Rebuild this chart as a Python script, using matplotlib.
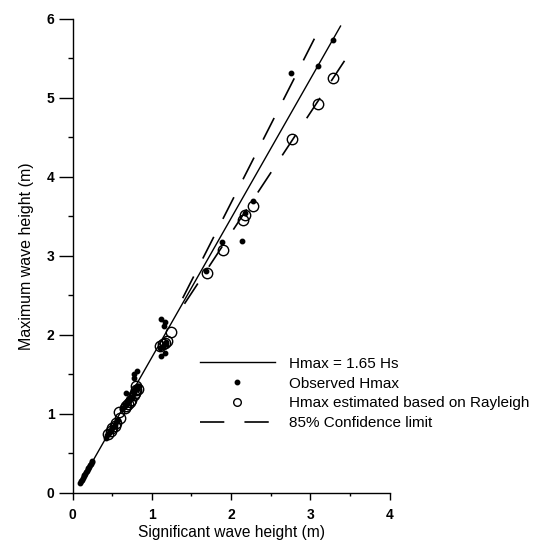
import numpy as np
import matplotlib
matplotlib.use('Agg')
import matplotlib.pyplot as plt

plt.rcParams['font.family'] = ['Liberation Sans', 'DejaVu Sans']
plt.rcParams['lines.scale_dashes'] = False

# Observed Hmax (filled dots)
obs_hs = [0.10, 0.11, 0.12, 0.13, 0.14, 0.15, 0.16, 0.17, 0.18, 0.19, 0.20,
          0.21, 0.22, 0.23, 0.24, 0.25,
          0.42, 0.44, 0.46, 0.47, 0.49, 0.50, 0.51, 0.53, 0.55, 0.57, 0.63,
          0.65, 0.67, 0.68, 0.69, 0.70, 0.71, 0.73, 0.75, 0.77, 0.79, 0.81,
          0.83, 0.77, 0.78, 0.81,
          1.10, 1.12, 1.14, 1.16, 1.17, 1.18, 1.12, 1.17, 1.15,
          1.68, 1.89, 2.14, 2.17, 2.27, 2.76, 3.10, 3.28]
obs_hmax = [0.13, 0.15, 0.17, 0.19, 0.21, 0.23, 0.24, 0.26, 0.28, 0.30, 0.32,
            0.33, 0.35, 0.37, 0.39, 0.41,
            0.70, 0.73, 0.76, 0.78, 0.80, 0.82, 0.84, 0.86, 0.90, 0.93, 1.06,
            1.09, 1.12, 1.27, 1.14, 1.15, 1.17, 1.20, 1.22, 1.26, 1.30, 1.33,
            1.35, 1.45, 1.51, 1.54,
            1.83, 1.73, 1.86, 1.88, 1.77, 1.91, 2.20, 2.16, 2.11,
            2.81, 3.18, 3.19, 3.54, 3.70, 5.31, 5.40, 5.73]

# Hmax estimated from Rayleigh (open circles)
est_hs = [0.45, 0.48, 0.50, 0.53, 0.55, 0.60, 0.59, 0.66,
          0.68, 0.70, 0.72, 0.74, 0.77, 0.79, 0.80, 0.82, 0.80,
          1.10, 1.14, 1.17, 1.19, 1.24, 1.69, 1.90, 2.15, 2.17, 2.28,
          2.77, 3.10, 3.29]
est_hmax = [0.75, 0.79, 0.82, 0.85, 0.88, 0.95, 1.02, 1.07,
            1.10, 1.13, 1.15, 1.18, 1.24, 1.27, 1.30, 1.32, 1.35,
            1.86, 1.88, 1.90, 1.92, 2.04, 2.79, 3.08, 3.45, 3.52, 3.63,
            4.48, 4.92, 5.25]

# fitted line and confidence limits as drawn
fit_hs = [0.10, 3.38]
fit_hmax = [0.13, 5.91]
upper_hs = [3.05, 1.29]
upper_hmax = [5.75, 2.27]
lower_hs = [3.43, 1.33]
lower_hmax = [5.47, 2.27]

fig = plt.figure(figsize=(5.34, 5.43), dpi=100)
ax = fig.add_axes([0.1358, 0.0921, 0.594, 0.873])

ax.plot(fit_hs, fit_hmax, color='black', lw=1.0, label='Hmax = 1.65 Hs')
ax.plot(obs_hs, obs_hmax, 'o', color='black', ms=3.2, ls='none',
        label='Observed Hmax', zorder=4)
ax.plot(est_hs, est_hmax, 'o', mfc='none', mec='black', mew=1.0, ms=7.5,
        ls='none', label='Hmax estimated based on Rayleigh', zorder=3)
ax.plot(upper_hs, upper_hmax, color='black', lw=1.2,
        dashes=(17.5, 14.5), label='85% Confidence limit')
ax.plot(lower_hs, lower_hmax, color='black', lw=1.2, dashes=(17.5, 14.5))

ax.set_xlim(0, 4)
ax.set_ylim(0, 6)
ax.spines['top'].set_visible(False)
ax.spines['right'].set_visible(False)
ax.spines['left'].set_linewidth(1.0)
ax.spines['bottom'].set_linewidth(1.0)

ax.set_xticks([0, 1, 2, 3, 4])
ax.set_xticks([0.5, 1.5, 2.5, 3.5], minor=True)
ax.set_yticks([0, 1, 2, 3, 4, 5, 6])
ax.set_yticks([0.5, 1.5, 2.5, 3.5, 4.5, 5.5], minor=True)
ax.tick_params(axis='x', which='major', direction='out', length=5, width=1, pad=6)
ax.tick_params(axis='x', which='minor', direction='out', length=2.5, width=1)
ax.tick_params(axis='y', which='major', direction='out', length=10, width=1, pad=3)
ax.tick_params(axis='y', which='minor', direction='out', length=3.6, width=1)
for lab in ax.get_xticklabels() + ax.get_yticklabels():
    lab.set_fontweight('bold')
    lab.set_fontsize(10)

ax.set_xlabel('Significant wave height (m)', fontsize=11.2, labelpad=2)
ax.set_ylabel('Maximum wave height (m)', fontsize=11.5, labelpad=9)

leg = ax.legend(loc='upper left', bbox_to_anchor=(0.3745, 0.343),
                bbox_transform=fig.transFigure, frameon=False, fontsize=11,
                handlelength=4.9, handletextpad=0.9, labelspacing=0.38,
                borderpad=0, borderaxespad=0, numpoints=1)
# legend circle is drawn smaller than in the plot
leg.legend_handles[2].set_markersize(5.5)

fig.savefig('out.png', dpi=100)
